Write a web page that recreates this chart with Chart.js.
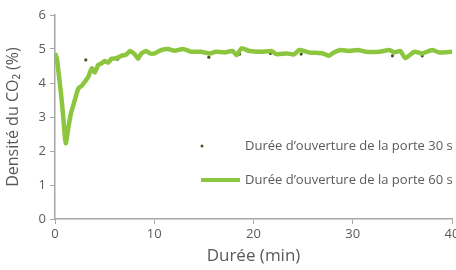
<!DOCTYPE html>
<html lang="fr">
<head>
<meta charset="UTF-8">
<title>Densité du CO2</title>
<script src="https://cdn.jsdelivr.net/npm/chart.js"></script>
<style>
  html, body { margin: 0; padding: 0; background: #fff; }
  #wrap { width: 456px; height: 270px; overflow: hidden; }
</style>
</head>
<body>
<div id="wrap"><canvas id="co2Chart" width="456" height="270"></canvas></div>
<script>
  // Door open 30 s (dots)
  const times30 = [3.1, 6.3, 9.3, 12.4, 15.5, 18.6, 21.7, 24.8, 27.9, 31.0, 34.0, 37.0];
  const co2_30 = [4.68, 4.70, 4.92, 4.96, 4.76, 4.85, 4.87, 4.85, 4.86, 4.94, 4.80, 4.80];

  // Door open 60 s
  const times60 = [0, 0.2, 0.4, 0.6, 0.8, 1.0, 1.1, 1.3, 1.6, 2.0, 2.35, 2.7, 2.9, 3.35, 3.7, 4.0, 4.35, 4.7, 5.0, 5.36,
    5.7, 6.2, 6.7, 7.2, 7.54, 8.04, 8.37, 8.7, 9.2, 9.55, 10.05, 10.7, 11.4, 12.06, 12.9, 13.7, 14.7, 15.6, 16.2, 17.1,
    17.9, 18.3, 18.8, 19.6, 20.8, 21.8, 22.3, 23.4, 24.1, 24.6, 25.6, 27.0, 27.6, 28.1, 28.8, 29.6, 30.5, 31.3, 32.7,
    33.7, 34.2, 34.8, 35.3, 36.2, 37.0, 38.0, 38.7, 40.0];
  const co2_60 = [4.88, 4.70, 4.20, 3.70, 3.10, 2.40, 2.23, 2.60, 3.10, 3.50, 3.84, 3.92, 4.00, 4.18, 4.43, 4.31, 4.53, 4.58, 4.65, 4.60,
    4.71, 4.73, 4.80, 4.84, 4.94, 4.84, 4.71, 4.87, 4.94, 4.87, 4.87, 4.97, 5.00, 4.95, 5.00, 4.92, 4.92, 4.87, 4.92, 4.90,
    4.94, 4.82, 5.02, 4.94, 4.92, 4.94, 4.85, 4.87, 4.84, 4.97, 4.90, 4.87, 4.80, 4.90, 4.97, 4.94, 4.97, 4.92, 4.92,
    4.97, 4.90, 4.94, 4.73, 4.92, 4.87, 4.97, 4.90, 4.92];

  const xTicks = [0, 10, 20, 30, 40];
  const yTicks = [0, 1, 2, 3, 4, 5, 6];

  const textColor = '#5a5a5a';
  const axisColor = '#a6a6a6';
  const fontFamily = "'Open Sans', 'DejaVu Sans', sans-serif";

  // legend drawn inside the plot area, lower right
  const insideLegend = {
    id: 'insideLegend',
    afterDraw(chart) {
      const ctx = chart.ctx;
      const ds = chart.data.datasets;
      ctx.save();
      ctx.font = '13px ' + fontFamily;
      ctx.textBaseline = 'middle';
      ctx.beginPath();
      ctx.arc(202, 146, 1.5, 0, Math.PI * 2);
      ctx.fillStyle = ds[0].pointBackgroundColor;
      ctx.fill();
      ctx.fillStyle = textColor;
      ctx.fillText(ds[0].label, 245, 146);
      ctx.strokeStyle = ds[1].borderColor;
      ctx.lineWidth = 4;
      ctx.beginPath();
      ctx.moveTo(201, 180);
      ctx.lineTo(240, 180);
      ctx.stroke();
      ctx.fillText(ds[1].label, 245, 180);
      ctx.restore();
    }
  };

  new Chart(document.getElementById('co2Chart'), {
    type: 'scatter',
    data: {
      datasets: [
        {
          label: 'Durée d\u2019ouverture de la porte 30 s',
          data: times30.map((t, i) => ({ x: t, y: co2_30[i] })),
          showLine: false,
          pointRadius: 1.6,
          pointBackgroundColor: '#3d5a16',
          pointBorderWidth: 0,
          order: 2
        },
        {
          label: 'Durée d\u2019ouverture de la porte 60 s',
          data: times60.map((t, i) => ({ x: t, y: co2_60[i] })),
          showLine: true,
          borderColor: '#8cc63f',
          borderWidth: 4.5,
          pointRadius: 0,
          tension: 0.2,
          order: 1
        }
      ]
    },
    options: {
      responsive: false,
      animation: false,
      layout: { padding: { top: 15, right: 4, left: 0, bottom: 0 } },
      plugins: { legend: { display: false }, tooltip: { enabled: false } },
      scales: {
        x: {
          type: 'linear',
          min: 0, max: 40,
          afterBuildTicks: axis => { axis.ticks = xTicks.map(v => ({ value: v })); },
          grid: { drawOnChartArea: false, color: axisColor, tickLength: 5 },
          border: { color: axisColor, width: 1.5 },
          ticks: { color: textColor, font: { size: 13, family: fontFamily }, padding: 2, maxRotation: 0 },
          title: { display: true, text: 'Durée (min)', color: textColor, font: { size: 17, family: fontFamily }, padding: { top: 2 } },
          afterFit: axis => { axis.height = 51; axis.paddingRight = 0; axis.paddingLeft = 0; }
        },
        y: {
          min: 0, max: 6,
          afterBuildTicks: axis => { axis.ticks = yTicks.map(v => ({ value: v })); },
          grid: { drawOnChartArea: false, color: axisColor, tickLength: 5 },
          border: { color: axisColor, width: 1.5 },
          ticks: { color: textColor, font: { size: 13, family: fontFamily }, padding: 4 },
          title: { display: true, text: 'Densité du CO\u2082 (%)', color: textColor, font: { size: 16, family: fontFamily }, padding: { bottom: 4 } },
          afterFit: axis => { axis.width = 55; axis.paddingTop = 0; axis.paddingBottom = 0; }
        }
      }
    },
    plugins: [insideLegend]
  });
</script>
</body>
</html>
